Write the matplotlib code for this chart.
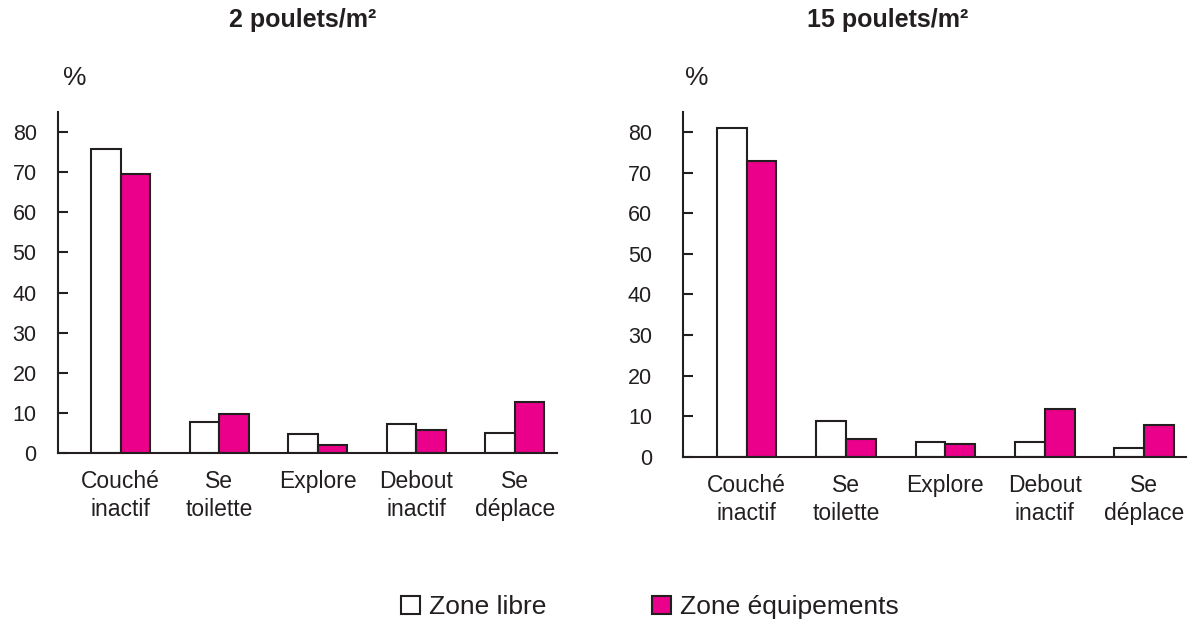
import numpy as np
import matplotlib
matplotlib.use("Agg")
import matplotlib.pyplot as plt

plt.rcParams['font.family'] = ['Liberation Sans', 'DejaVu Sans']

categories = ["Couché\ninactif", "Se\ntoilette", "Explore", "Debout\ninactif", "Se\ndéplace"]
series_names = ["Zone libre", "Zone équipements"]
titles = ["2 poulets/m²", "15 poulets/m²"]

libre_2 = [75.8, 7.8, 4.7, 7.3, 5.0]
equip_2 = [69.6, 9.8, 2.0, 5.7, 12.8]
libre_15 = [81.0, 8.8, 3.6, 3.6, 2.1]
equip_15 = [72.8, 4.5, 3.2, 11.9, 7.8]

yticks = [0, 10, 20, 30, 40, 50, 60, 70, 80]

INK = '#231f20'
MAGENTA = '#ea008a'

fig = plt.figure(figsize=(11.95, 6.21), dpi=100)
W, H = 1195, 621

def px_axes(x0, x1, ytop, ybot):
    return fig.add_axes([x0 / W, 1 - ybot / H, (x1 - x0) / W, (ybot - ytop) / H])

ax1 = px_axes(57.5, 557, 112, 453)
ax2 = px_axes(682.5, 1186, 112, 457)

panels = [(ax1, libre_2, equip_2, 85.0, 15, (-0.642, 4.43)),
          (ax2, libre_15, equip_15, 84.9, 22, (-0.645, 4.42))]
x = np.arange(len(categories))
w = 0.30
handles = None
for ax, lib, eq, ytop, pad, xl in panels:
    b1 = ax.bar(x - w / 2, lib, width=w, color='white', edgecolor=INK, linewidth=1.5)
    b2 = ax.bar(x + w / 2, eq, width=w, color=MAGENTA, edgecolor=INK, linewidth=1.5)
    handles = [b1, b2]
    ax.set_xlim(*xl)
    ax.set_ylim(0, ytop)
    ax.set_yticks(yticks)
    ax.set_yticklabels([str(v) for v in yticks], fontsize=15.5, color=INK)
    ax.tick_params(axis='y', direction='in', length=7.5, width=1.5, color=INK, pad=pad)
    ax.set_xticks(x)
    ax.set_xticklabels(categories, fontsize=16.5, color=INK, va='top', linespacing=1.27)
    ax.tick_params(axis='x', length=0, pad=12)
    for s in ['top', 'right']:
        ax.spines[s].set_visible(False)
    for s in ['left', 'bottom']:
        ax.spines[s].set_color(INK)
        ax.spines[s].set_linewidth(1.5)

fig.text(303 / W, 1 - 20 / H, titles[0], ha='center', va='center', fontsize=18, fontweight='bold', color=INK)
fig.text(888 / W, 1 - 20 / H, titles[1], ha='center', va='center', fontsize=18, fontweight='bold', color=INK)
fig.text(75 / W, 1 - 78 / H, '%', ha='center', va='center', fontsize=19, color=INK)
fig.text(697 / W, 1 - 78 / H, '%', ha='center', va='center', fontsize=19, color=INK)

leg = fig.legend(handles, series_names, loc='center', bbox_to_anchor=(650 / W, 1 - 607 / H),
                 ncol=2, frameon=False, fontsize=19, handlelength=0.7, handleheight=0.7,
                 handletextpad=0.35, columnspacing=4.0, borderpad=0)
for t in leg.get_texts():
    t.set_color(INK)

fig.savefig('out.png', dpi=100)
